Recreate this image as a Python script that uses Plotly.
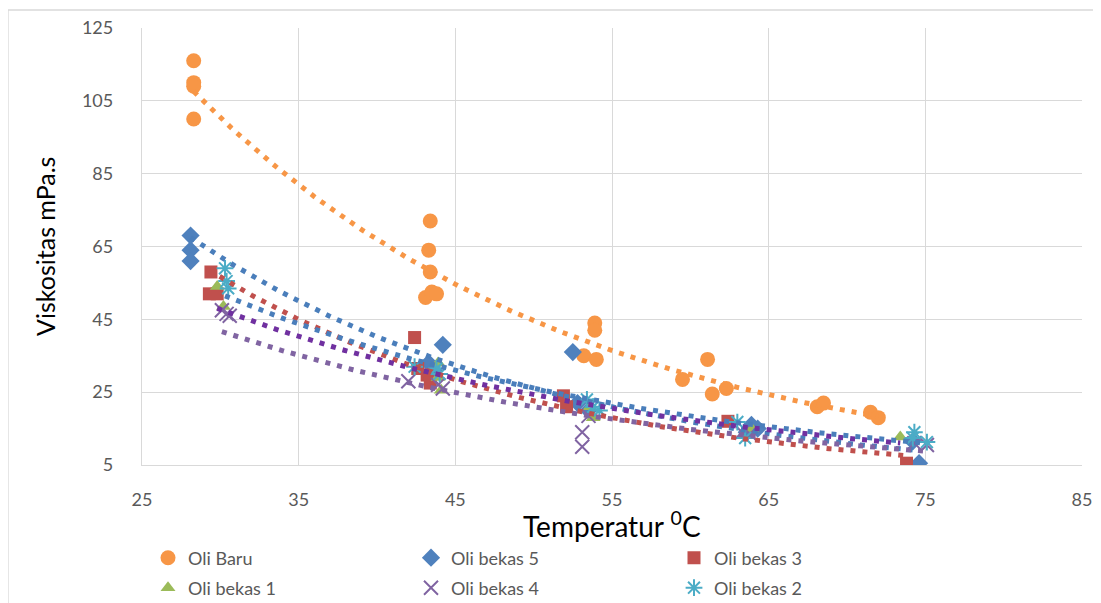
import numpy as np
import plotly.graph_objects as go

# ---------------- data ----------------
baru_x = [28.3, 28.3, 28.3, 28.3, 43.1, 43.3, 43.4, 43.5, 43.8, 43.4,
          53.2, 53.9, 53.9, 54.0, 59.5, 61.1, 61.4, 62.3, 68.1, 68.5, 71.5, 72.0]
baru_y = [116, 110, 109, 100, 51, 64, 72, 52.5, 52, 58,
          35, 44, 42, 34, 28.5, 34, 24.5, 26, 21, 22, 19.5, 18]

bekas5_x = [28.1, 28.1, 28.1, 43.3, 43.6, 44.2, 52.5, 52.8, 53.5, 63.6, 63.9, 64.3, 74.2, 74.6]
bekas5_y = [68, 64, 61, 33, 31, 38, 36, 22, 20, 14, 16, 15, 11.5, 5.5]

bekas3_x = [29.4, 29.3, 29.8, 42.4, 42.6, 43.2, 43.4, 51.9, 52.1, 62.4, 73.8]
bekas3_y = [58, 52, 52, 40, 31.5, 29.7, 27.5, 24, 21, 17, 5.5]

bekas1_x = [29.8, 30.2, 43.9, 43.9, 44.1, 53.6, 53.8, 63.9, 73.4]
bekas1_y = [54, 48.5, 33, 29, 25.5, 21, 18, 15, 12.7]

bekas4_x = [30.1, 30.4, 30.6, 42.0, 43.9, 44.2, 53.1, 53.1, 53.5, 63.3, 63.8, 74.3, 75.1]
bekas4_y = [47.5, 46.5, 46, 28, 27, 26, 14, 10, 18.5, 14, 13.5, 11, 10.5]

bekas2_x = [30.3, 30.4, 30.5, 42.4, 43.8, 44.0, 53.4, 53.8, 54.2, 63.0, 63.5, 74.3, 74.2, 75.1]
bekas2_y = [59, 55.5, 53.5, 32, 31.5, 30, 23, 21, 20, 16.8, 12.4, 14, 12.4, 11.3]

names = ["Oli Baru", "Oli bekas 5", "Oli bekas 3", "Oli bekas 1", "Oli bekas 4", "Oli bekas 2"]
x_ticks = [25, 35, 45, 55, 65, 75, 85]
y_ticks = [5, 25, 45, 65, 85, 105, 125]
x_title = "Temperatur <sup>0</sup>C"
y_title = "Viskositas mPa.s"

# ---------------- styles ----------------
series = [
    (baru_x, baru_y, dict(symbol="circle", size=15, color="#F79646"), "#F79646", "legend"),
    (bekas5_x, bekas5_y, dict(symbol="diamond", size=14, color="#4F81BD"), "#4A7EBB", "legend"),
    (bekas3_x, bekas3_y, dict(symbol="square", size=13, color="#C0504D"), "#C0504D", "legend"),
    (bekas1_x, bekas1_y, dict(symbol="triangle-up", size=13, color="#9BBB59"), "#7030A0", "legend2"),
    (bekas4_x, bekas4_y, dict(symbol="x-thin-open", size=14, color="#8064A2",
                              line=dict(width=2, color="#8064A2")), "#8064A2", "legend2"),
    (bekas2_x, bekas2_y, dict(symbol="asterisk-open", size=14, color="#4BACC6",
                              line=dict(width=2, color="#4BACC6")), "#4A7EBB", "legend2"),
]

fig = go.Figure()
for (xs, ys, mk, tcol, lg), nm in zip(series, names):
    fig.add_trace(go.Scatter(x=xs, y=ys, mode="markers", name=nm, marker=mk,
                             legend=lg, showlegend=True))

# exponential trendlines (least squares on log y, like Excel)
for (xs, ys, mk, tcol, lg), nm in zip(series, names):
    xa = np.array(xs, float)
    ya = np.array(ys, float)
    b, a = np.polyfit(xa, np.log(ya), 1)
    tx = np.linspace(xa.min(), xa.max(), 200)
    ty = np.exp(a + b * tx)
    fig.add_trace(go.Scatter(x=tx, y=ty, mode="lines", showlegend=False,
                             line=dict(color=tcol, width=5, dash="5px,7px"),
                             hoverinfo="skip"))

# the page body has an 8px margin, so the figure starts at (8, 8) on screen
OFF = 8
W, H = 1101 - OFF, 603 - OFF
L, T = 142 - OFF, 28 - OFF
R = W - (1082 - OFF)
B = H - (465 - OFF)
pw, ph = W - L - R, H - T - B

def px2paper_x(px):
    return (px - OFF - L) / pw

def py2paper_y(py):
    return (H - B - (py - OFF)) / ph

fig.update_layout(
    width=W, height=H,
    margin=dict(l=L, r=R, t=T, b=B, autoexpand=False),
    paper_bgcolor="white", plot_bgcolor="white",
    font=dict(family="Lato, 'Open Sans', sans-serif", color="#595959", size=18),
    xaxis=dict(range=[25, 85], tickvals=x_ticks, ticktext=[str(v) for v in x_ticks],
               showgrid=True, gridcolor="#D9D9D9", gridwidth=1.3, automargin=False,
               showline=True, linecolor="#D9D9D9", linewidth=1.3, zeroline=False,
               ticks="", ticklabelstandoff=18),
    yaxis=dict(range=[5, 125], tickvals=y_ticks, ticktext=[str(v) for v in y_ticks],
               showgrid=True, gridcolor="#D9D9D9", gridwidth=1.3, automargin=False,
               showline=True, linecolor="#D9D9D9", linewidth=1.3, zeroline=False,
               ticks="", ticklabelstandoff=24),
    legend=dict(orientation="h", x=px2paper_x(148), xanchor="left",
                y=py2paper_y(558), yanchor="middle", entrywidth=218, entrywidthmode="pixels",
                font=dict(size=18, color="#595959"), bgcolor="rgba(0,0,0,0)"),
    legend2=dict(orientation="h", x=px2paper_x(148), xanchor="left",
                 y=py2paper_y(588), yanchor="middle", entrywidth=218, entrywidthmode="pixels",
                 font=dict(size=18, color="#595959"), bgcolor="rgba(0,0,0,0)"),
    annotations=[
        dict(text=x_title, xref="paper", yref="paper", x=px2paper_x(612), y=py2paper_y(524),
             xanchor="center", yanchor="middle", showarrow=False,
             font=dict(size=28, color="black")),
        dict(text=y_title, xref="paper", yref="paper", x=px2paper_x(45), y=py2paper_y(247),
             xanchor="center", yanchor="middle", showarrow=False, textangle=-90,
             font=dict(size=25, color="black")),
    ],
    shapes=[dict(type="rect", xref="paper", yref="paper",
                 x0=px2paper_x(8), x1=px2paper_x(1120),
                 y0=py2paper_y(640), y1=py2paper_y(10),
                 line=dict(color="#D9D9D9", width=1.3), fillcolor="rgba(0,0,0,0)",
                 layer="below")],
)

fig.write_html("out.html")
